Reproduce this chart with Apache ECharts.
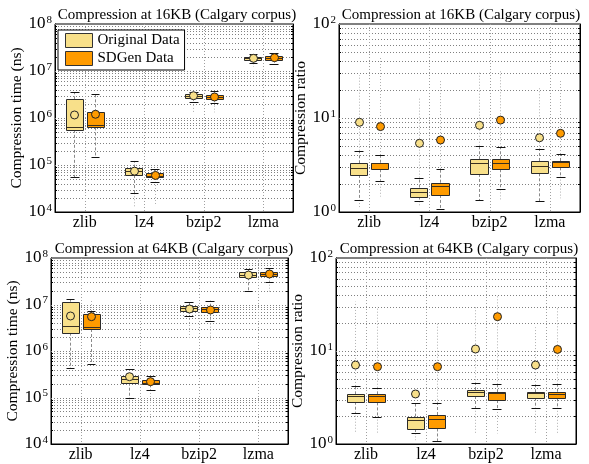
<!DOCTYPE html>
<html><head><meta charset="utf-8">
<script src="https://cdn.jsdelivr.net/npm/echarts@6/dist/echarts.min.js"></script>
<style>html,body{margin:0;padding:0;background:#fff}#c{width:589px;height:464px}</style>
</head><body><div id="c"></div>
<script>
const categories = ['zlib', 'lz4', 'bzip2', 'lzma'];
const panelTitles = ['Compression at 16KB (Calgary corpus)', 'Compression at 16KB (Calgary corpus)',
                     'Compression at 64KB (Calgary corpus)', 'Compression at 64KB (Calgary corpus)'];
const yNames = ['Compression time (ns)', 'Compression ratio', 'Compression time (ns)', 'Compression ratio'];
const timeDecades = [1e4, 1e5, 1e6, 1e7, 1e8];
const ratioDecades = [1e0, 1e1, 1e2];
const minorMultipliers = [1, 2, 3, 4, 5, 6, 7, 8, 9];

// each box: [lowerCap, Q1, median, Q3, upperCap, mean, lowestFlier, highestFlier]
const time16Original = [
  [5.5e4, 5.6e5, 6.5e5, 2.5e6, 3.5e6, 1.16e6, null, null],
  [2.5e4, 6.1e4, 7.4e4, 8.8e4, 1.22e5, 7.4e4, 1.2e4, null],
  [2.2e6, 2.7e6, 2.9e6, 3.2e6, 3.6e6, 2.98e6, 1.3e6, null],
  [1.46e7, 1.71e7, 1.85e7, 2.01e7, 2.26e7, 1.86e7, 1.23e7, null]
];
const time16SDGen = [
  [1.5e5, 6.3e5, 7.1e5, 1.32e6, 3.2e6, 1.2e6, null, null],
  [4.35e4, 5.6e4, 5.8e4, 6.65e4, 8.1e4, 6.0e4, 1.34e4, null],
  [2.12e6, 2.58e6, 2.8e6, 3.04e6, 3.75e6, 2.8e6, 1.32e6, null],
  [1.38e7, 1.75e7, 1.9e7, 2.05e7, 2.38e7, 1.92e7, null, null]
];
const ratio16Original = [
  [1.34, 2.48, 2.96, 3.3, 4.49, 9.0, 1.1, 28.6],
  [1.3, 1.46, 1.64, 1.82, 2.32, 5.38, 1.15, 16.3],
  [1.33, 2.54, 3.3, 3.64, 5.07, 8.36, null, 31],
  [1.31, 2.58, 3.11, 3.49, 4.65, 6.16, null, 21.5]
];
const ratio16SDGen = [
  [2.15, 2.85, 3.3, 3.34, 4.04, 8.1, 1.46, 45],
  [1.08, 1.52, 1.9, 2.05, 2.86, 5.83, null, 25],
  [1.74, 2.85, 3.3, 3.64, 4.88, 9.5, 1.3, 32],
  [2.38, 2.99, 3.38, 3.49, 4.14, 6.87, 1.4, 25]
];
const time64Original = [
  [4.25e5, 2.48e6, 3.45e6, 1.15e7, 1.31e7, 5.66e6, null, null],
  [9.6e4, 2.08e5, 2.5e5, 2.94e5, 4.03e5, 2.8e5, 3e4, null],
  [5.66e6, 7.36e6, 8.3e6, 9.4e6, 1.11e7, 8.0e6, 1.73e6, null],
  [1.98e7, 3.85e7, 4.3e7, 5.08e7, 5.8e7, 4.3e7, null, null]
];
const time64SDGen = [
  [5.25e5, 2.97e6, 3.33e6, 6.15e6, 7.25e6, 5.47e6, null, 1.25e7],
  [1.45e5, 1.92e5, 2.08e5, 2.38e5, 2.9e5, 2.19e5, 2.8e4, null],
  [4.49e6, 7.0e6, 7.9e6, 8.98e6, 1.21e7, 7.62e6, 1.73e6, null],
  [3.09e7, 4.17e7, 4.6e7, 5.08e7, 6.18e7, 4.53e7, 1.88e7, null]
];
const ratio64Original = [
  [2.17, 2.85, 3.3, 3.42, 4.21, 7.06, 1.3, 34],
  [1.3, 1.45, 1.81, 1.97, 2.74, 3.45, 1.1, null],
  [2.45, 3.28, 3.65, 3.81, 4.5, 10.5, 1.3, 30],
  [2.45, 3.15, 3.5, 3.6, 4.3, 7.06, 1.3, 18]
];
const ratio64SDGen = [
  [1.97, 2.8, 3.3, 3.42, 4.03, 6.78, 1.3, 30],
  [1.08, 1.47, 1.84, 2.05, 2.78, 6.78, null, 20],
  [2.38, 2.97, 3.5, 3.6, 4.38, 23.4, 1.3, 40],
  [2.45, 3.1, 3.42, 3.65, 4.38, 10.4, 1.3, 30]
];

const F = 'Liberation Serif';
const ORIG = '#f8e08a', SDG = '#ff9b00';
const panels = [
  { rect: [55, 24, 238, 188], decades: timeDecades, orig: time16Original, sdg: time16SDGen, nameGap: 30, title: [177, 15] },
  { rect: [339, 24, 241, 188], decades: ratioDecades, orig: ratio16Original, sdg: ratio16SDGen, nameGap: 30, title: [461, 15] },
  { rect: [51, 258, 237, 186], decades: timeDecades, orig: time64Original, sdg: time64SDGen, nameGap: 26, title: [174, 249] },
  { rect: [336, 258, 240, 186], decades: ratioDecades, orig: ratio64Original, sdg: ratio64SDGen, nameGap: 28, title: [459, 249] }
];

const crisp = v => Math.round(v) + 0.5;

function boxRenderer(rows, side, fill) {
  return function (params, api) {
    const r = rows[params.dataIndex];
    const cat = api.value(0);
    const band = api.size([1, 0])[0];
    const cx = api.coord([cat, r[2]])[0] + side * band * 0.176;
    const w = band * 0.286;
    const capW = w * 0.5;
    const Y = v => api.coord([cat, v])[1];
    const ch = [];
    const line = (x1, y1, x2, y2, stroke, dash) => ch.push({
      type: 'line', shape: { x1, y1, x2, y2 },
      style: { stroke, lineWidth: 1, lineDash: dash || null }
    });
    const xc = crisp(cx);
    if (r[7] != null) line(xc, Y(r[4]), xc, Y(r[7]), '#b0b0b0', [1, 2]);
    if (r[6] != null) line(xc, Y(r[0]), xc, Y(r[6]), '#b0b0b0', [1, 2]);
    line(xc, Y(r[3]), xc, Y(r[4]), '#8a8a8a', [3, 2]);
    line(xc, Y(r[1]), xc, Y(r[0]), '#8a8a8a', [3, 2]);
    const yTop = crisp(Y(r[3])), yBot = crisp(Y(r[1]));
    const x0 = crisp(cx - w / 2), x1 = crisp(cx + w / 2);
    ch.push({ type: 'rect', shape: { x: x0, y: yTop, width: x1 - x0, height: yBot - yTop },
      style: { fill, stroke: '#2a2a2a', lineWidth: 1 } });
    line(x0, crisp(Y(r[2])), x1, crisp(Y(r[2])), '#3a3020');
    line(crisp(cx - capW / 2), crisp(Y(r[4])), crisp(cx + capW / 2), crisp(Y(r[4])), '#111');
    line(crisp(cx - capW / 2), crisp(Y(r[0])), crisp(cx + capW / 2), crisp(Y(r[0])), '#111');
    ch.push({ type: 'circle', shape: { cx: xc, cy: Y(r[5]), r: 4 },
      style: { fill, stroke: '#222', lineWidth: 1 } });
    return { type: 'group', children: ch };
  };
}

function gridRenderer(decades) {
  return function (params, api) {
    if (params.dataIndex !== 0) return null;
    const cs = params.coordSys;
    const ch = [];
    decades.forEach((d, k) => {
      minorMultipliers.forEach(m => {
        if (k === decades.length - 1 && m > 1) return;
        const v = d * m;
        const y = crisp(api.coord([0, v])[1]);
        ch.push({ type: 'line', shape: { x1: cs.x, y1: y, x2: cs.x + cs.width, y2: y },
          style: { stroke: '#808080', lineWidth: 1, lineDash: [1, 2] } });
        if (m > 1) {
          ch.push({ type: 'line', shape: { x1: cs.x, y1: y, x2: cs.x + 2, y2: y }, style: { stroke: '#000', lineWidth: 1 } });
          ch.push({ type: 'line', shape: { x1: cs.x + cs.width - 2, y1: y, x2: cs.x + cs.width, y2: y }, style: { stroke: '#000', lineWidth: 1 } });
        }
      });
    });
    categories.forEach((c, i) => {
      const x = crisp(api.coord([i, decades[0]])[0]);
      ch.push({ type: 'line', shape: { x1: x, y1: cs.y, x2: x, y2: cs.y + cs.height },
        style: { stroke: '#a0a0a0', lineWidth: 1, lineDash: [1, 2] } });
    });
    return { type: 'group', children: ch };
  };
}

const grid = [], xAxis = [], yAxis = [], series = [], graphic = [];
panels.forEach((p, g) => {
  const lo = p.decades[0], hi = p.decades[p.decades.length - 1];
  grid.push({ left: p.rect[0], top: p.rect[1], width: p.rect[2], height: p.rect[3],
    show: true, borderColor: '#000', borderWidth: 1, backgroundColor: '#fff' });
  xAxis.push({ type: 'category', gridIndex: g, data: categories,
    axisLine: { lineStyle: { color: '#000' } },
    axisTick: { alignWithLabel: true, inside: true, length: 4, lineStyle: { color: '#000' } },
    axisLabel: { fontFamily: F, fontSize: 16, color: '#000', margin: 3 },
    splitLine: { show: false } });
  const labelCfg = {
    margin: 3,
    formatter: v => '{b|10}{e|' + Math.round(Math.log10(v)) + '}',
    rich: {
      b: { fontFamily: F, fontSize: 17, color: '#000', lineHeight: 19 },
      e: { fontFamily: F, fontSize: 11, color: '#000', verticalAlign: 'top', lineHeight: 11, padding: [0, 0, 0, 1] }
    }
  };
  yAxis.push({ type: 'log', logBase: 10, gridIndex: g, min: lo, max: hi, position: 'left',
    axisLine: { show: true, lineStyle: { color: '#000' } },
    axisTick: { inside: true, length: 4, lineStyle: { color: '#000' } },
    axisLabel: labelCfg, splitLine: { show: false },
    name: yNames[g], nameLocation: 'middle', nameGap: p.nameGap,
    nameTextStyle: { fontFamily: F, fontSize: 15.5, color: '#000' } });
  yAxis.push({ type: 'log', logBase: 10, gridIndex: g, min: lo, max: hi, position: 'right',
    axisLine: { show: true, lineStyle: { color: '#000' } },
    axisTick: { inside: true, length: 4, lineStyle: { color: '#000' } },
    axisLabel: { show: false }, splitLine: { show: false } });
  series.push({ type: 'custom', name: 'grid' + g, xAxisIndex: g, yAxisIndex: 2 * g, z: 1, silent: true,
    renderItem: gridRenderer(p.decades), data: [[0, lo]], encode: { x: 0, y: 1 }, clip: true });
  series.push({ type: 'custom', name: 'Original Data', xAxisIndex: g, yAxisIndex: 2 * g, z: 3,
    itemStyle: { color: ORIG, borderColor: '#333', borderWidth: 1 },
    renderItem: boxRenderer(p.orig, -1, ORIG), clip: true,
    data: p.orig.map((r, i) => [i, r[2]]), encode: { x: 0, y: 1 } });
  series.push({ type: 'custom', name: 'SDGen Data', xAxisIndex: g, yAxisIndex: 2 * g, z: 3,
    itemStyle: { color: SDG, borderColor: '#333', borderWidth: 1 },
    renderItem: boxRenderer(p.sdg, 1, SDG), clip: true,
    data: p.sdg.map((r, i) => [i, r[2]]), encode: { x: 0, y: 1 } });
  graphic.push({ type: 'text', x: p.title[0], y: p.title[1],
    style: { text: panelTitles[g], font: '15px "Liberation Serif"', fill: '#000', align: 'center', verticalAlign: 'middle' } });
});

const chart = echarts.init(document.getElementById('c'), null, { renderer: 'canvas' });
chart.setOption({
  animation: false,
  backgroundColor: '#fff',
  grid, xAxis, yAxis, series, graphic,
  legend: {
    left: 58, top: 30, orient: 'vertical', itemWidth: 27, itemHeight: 14, itemGap: 3,
    padding: [3, 5, 4, 7], borderColor: '#000', borderWidth: 1, backgroundColor: '#fff',
    selectedMode: false, z: 10,
    textStyle: { fontFamily: F, fontSize: 15, color: '#000' },
    data: [
      { name: 'Original Data', icon: 'rect', itemStyle: { color: ORIG, borderColor: '#333', borderWidth: 1 } },
      { name: 'SDGen Data', icon: 'rect', itemStyle: { color: SDG, borderColor: '#333', borderWidth: 1 } }
    ]
  }
});
</script>
</body></html>
